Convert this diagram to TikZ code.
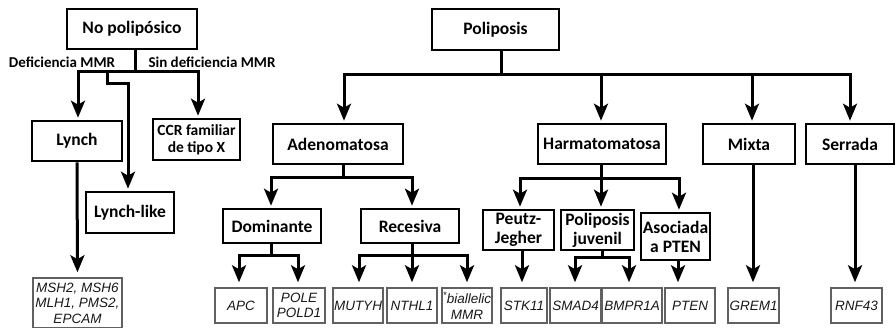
\documentclass[tikz,border=0pt]{standalone}
\usepackage{fontspec}
\setmainfont{Carlito}
\newfontfamily\genefont{Liberation Sans}
\usetikzlibrary{arrows.meta}
\begin{document}
\begin{tikzpicture}[x=1pt,y=-1pt,
  cat/.style={draw, line width=2.6pt, font=\bfseries\fontsize{17.5}{19}\selectfont, inner sep=0pt, align=center},
  gene/.style={draw=black!62, line width=1.5pt, font=\genefont\itshape\fontsize{13.5}{15.5}\selectfont, text=black!90, inner sep=0pt, align=center, minimum height=35pt},
  conn/.style={line width=3pt},
  arr/.style={line width=3pt, -{Stealth[length=17pt,width=14pt,inset=4pt]}, shorten >=2pt},
  garr/.style={arr, shorten >=5pt},
  lab/.style={font=\bfseries\fontsize{15}{17}\selectfont, inner sep=0pt}]
\clip (0,0) rectangle (896,327);
\fill[white] (0,0) rectangle (896,327);

% ---- top level
\node[cat, minimum width=130pt, minimum height=40pt] (np) at (132,29) {No polipósico};
\node[cat, minimum width=127pt, minimum height=41pt] (pol) at (495.5,29.5) {Poliposis};

\node[lab] (dmmr) at (62,62) {Deficiencia MMR};
\node[lab] (sdmmr) at (212,62) {Sin deficiencia MMR};

% ---- second level
\node[cat, minimum width=90pt, minimum height=40pt] (lynch) at (77,141) {Lynch};
\node[cat, minimum width=87pt, minimum height=41pt, font=\bfseries\fontsize{15.5}{17}\selectfont] (ccr) at (196.5,139.5) {CCR familiar\\de tipo X};
\node[cat, minimum width=88pt, minimum height=41pt] (lynchlike) at (130,212.5) {Lynch-like};
\node[cat, minimum width=130pt, minimum height=40pt] (aden) at (338,144) {Adenomatosa};
\node[cat, minimum width=128pt, minimum height=40pt] (harm) at (602,144) {Harmatomatosa};
\node[cat, minimum width=92pt, minimum height=40pt] (mixta) at (749,144) {Mixta};
\node[cat, minimum width=88pt, minimum height=40pt] (serr) at (850,144) {Serrada};

% ---- third level
\node[cat, minimum width=98pt, minimum height=34pt] (dom) at (272,226) {Dominante};
\node[cat, minimum width=98pt, minimum height=34pt] (rec) at (410,226) {Recesiva};
\node[cat, minimum width=71pt, minimum height=40pt] (peutz) at (518.5,230) {Peutz-\\Jegher};
\node[cat, minimum width=73pt, minimum height=40pt] (juv) at (597.5,230) {Poliposis\\juvenil};
\node[cat, minimum width=69pt, minimum height=47pt] (apten) at (675.5,236.5) {Asociada\\a PTEN};

% ---- genes
\node[gene, minimum width=89pt, minimum height=50pt] (msh) at (77.5,303) {MSH2, MSH6\\MLH1, PMS2,\\EPCAM};
\node[gene, minimum width=52pt] (apc) at (241,305.5) {APC};
\node[gene, minimum width=52pt] (pole) at (299,305.5) {POLE\\POLD1};
\node[gene, minimum width=50pt] (mutyh) at (358,305.5) {MUTYH};
\node[gene, minimum width=50pt] (nthl) at (412,305.5) {NTHL1};
\node[gene, minimum width=50pt] (biall) at (467,305.5) {\textsuperscript{*}biallelic\\MMR};
\node[gene, minimum width=46pt] (stk) at (524,305.5) {STK11};
\node[gene, minimum width=51pt] (smad) at (575.5,305.5) {SMAD4};
\node[gene, minimum width=60pt] (bmpr) at (632,305.5) {BMPR1A};
\node[gene, minimum width=50pt] (pteng) at (690,305.5) {PTEN};
\node[gene, minimum width=51pt] (grem) at (753.5,305.5) {GREM1};
\node[gene, minimum width=51pt] (rnf) at (856.5,305.5) {RNF43};

% ---- connectors: No polipósico
\coordinate (npj) at (135,71);
\coordinate (llj) at (107,71);
\draw[conn] (npj |- np.south) -- (npj);
\draw[arr] (npj) -| (78,0 |- lynch.north);
\draw[arr] (npj) -| (198,0 |- ccr.north);
\draw[arr] (llj) -- (107,83) -| (128,0 |- lynchlike.north);
\draw[garr] (lynch.south) -- (msh.north);

% ---- connectors: Poliposis
\coordinate (pj) at (501,74);
\draw[conn] (pj |- pol.south) -- (pj);
\draw[arr] (pj) -| (344,0 |- aden.north);
\draw[arr] (pj) -| (601,0 |- harm.north);
\draw[arr] (pj) -| (752,0 |- mixta.north);
\draw[arr] (pj) -| (850,0 |- serr.north);

% Adenomatosa
\coordinate (aj) at (343,177);
\draw[conn] (aj |- aden.south) -- (aj);
\draw[arr] (aj) -| (271,0 |- dom.north);
\draw[arr] (aj) -| (412,0 |- rec.north);

\coordinate (dj) at (271,255);
\draw[conn] (dj |- dom.south) -- (dj);
\draw[garr] (dj) -| (239,0 |- apc.north);
\draw[garr] (dj) -| (298,0 |- pole.north);

\coordinate (rj) at (412,255);
\draw[conn] (rj |- rec.south) -- (rj);
\draw[garr] (rj) -| (359,0 |- mutyh.north);
\draw[garr] (rj) -- (412,0 |- nthl.north);
\draw[garr] (rj) -| (467,0 |- biall.north);

% Harmatomatosa
\coordinate (hj) at (601,178);
\draw[conn] (hj |- harm.south) -- (hj);
\draw[arr] (hj) -| (520,0 |- peutz.north);
\draw[arr] (hj) -- (601,0 |- juv.north);
\draw[arr] (hj) -| (679,0 |- apten.north);

\draw[garr] (522,0 |- peutz.south) -- (522,0 |- stk.north);
\coordinate (jj) at (602,257);
\draw[conn] (jj |- juv.south) -- (jj);
\draw[garr] (jj) -| (575,0 |- smad.north);
\draw[garr] (jj) -| (629,0 |- bmpr.north);
\draw[garr] (678,0 |- apten.south) -- (678,0 |- pteng.north);

% Mixta, Serrada
\draw[garr] (753,0 |- mixta.south) -- (753,0 |- grem.north);
\draw[garr] (855,0 |- serr.south) -- (855,0 |- rnf.north);
\end{tikzpicture}
\end{document}
